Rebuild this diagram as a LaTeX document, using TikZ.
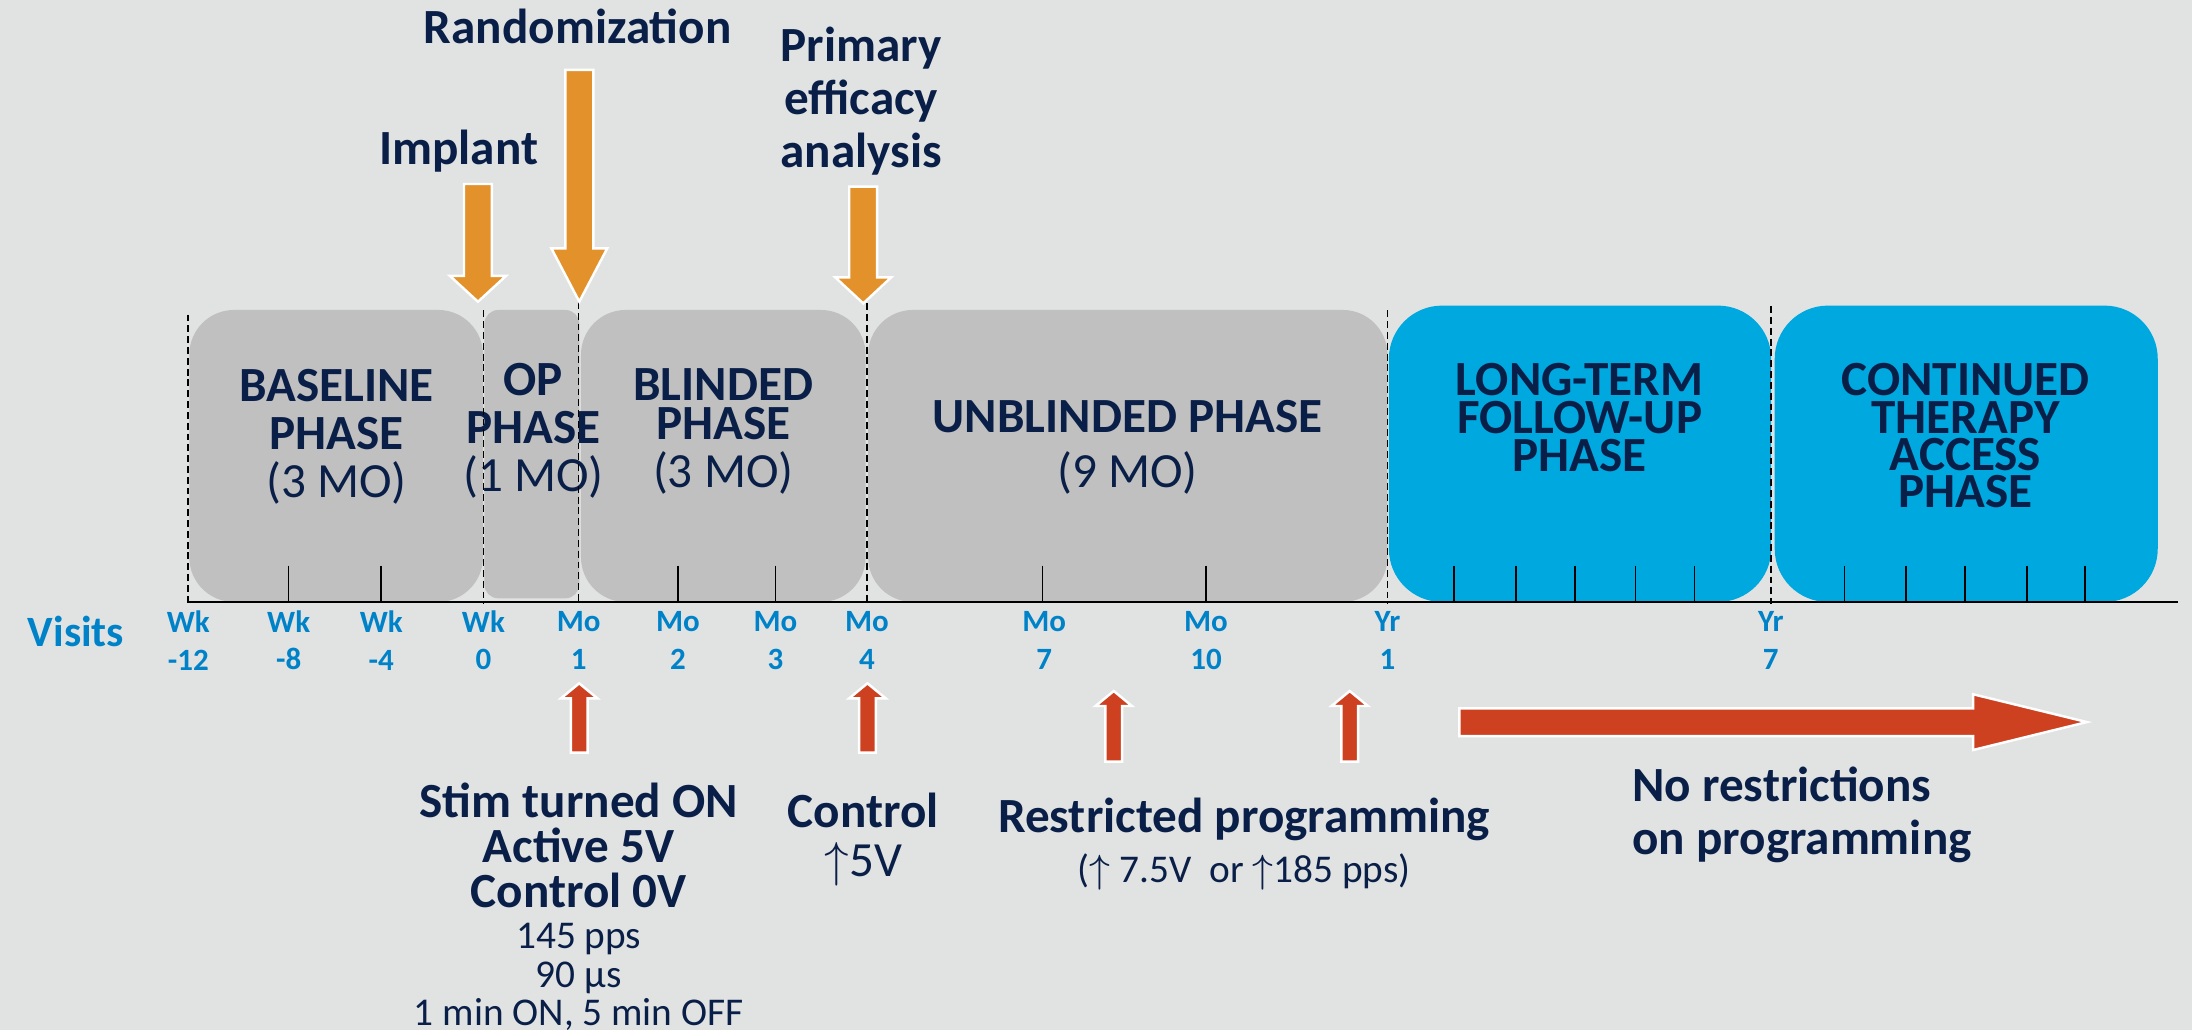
\documentclass[tikz,border=0pt]{standalone}
\usepackage{fontspec}
\setmainfont{Carlito}

\definecolor{bggray}{RGB}{225,227,227}
\definecolor{textnavy}{RGB}{10,31,72}
\definecolor{visitblue}{RGB}{0,130,200}
\definecolor{boxgray}{RGB}{192,192,192}
\definecolor{boxblue}{RGB}{0,168,224}
\definecolor{eventorange}{RGB}{227,146,43}
\definecolor{stimred}{RGB}{205,65,33}

\begin{document}
\begin{tikzpicture}[x=0.01cm, y=-0.01cm,
  phase/.style={font=\fontsize{10}{#1}\selectfont\bfseries, text=textnavy, align=center, inner sep=0pt},
  phase/.default=9.8,
  eventtext/.style={font=\fontsize{10}{#1}\selectfont\bfseries, text=textnavy, align=center, inner sep=0pt},
  eventtext/.default=10.8,
  settext/.style={font=\fontsize{8}{7.8}\selectfont, text=textnavy, align=center, inner sep=0pt},
  visit/.style={font=\fontsize{6.3}{7.7}\selectfont\bfseries, text=visitblue, align=center, inner sep=0pt},
  graybox/.style={fill=boxgray, rounded corners=0.32cm},
  bluebox/.style={fill=boxblue, rounded corners=0.38cm},
  downblock/.style={fill=eventorange, draw=white, line width=0.5pt},
  upblock/.style={fill=stimred, draw=white, line width=0.5pt},
  visitline/.style={line width=0.35pt, dash pattern=on 1.4pt off 0.8pt}]

\useasboundingbox (0,0) rectangle (1568,736.8);
\fill[bggray] (0,0) rectangle (1568,736.8);

% Drawing phase boxes
\fill[graybox] (135.4,221.7) rectangle (345.5,430.6);
\fill[graybox, rounded corners=0.1cm] (346.5,221.7) rectangle (414.4,428);
\fill[graybox] (415.6,221.7) rectangle (619.2,430.6);
\fill[graybox] (621,221.7) rectangle (992.5,430.6);
\fill[bluebox] (993.5,218.6) rectangle (1267,430.6);
\fill[bluebox] (1269.5,218.6) rectangle (1543.5,430.6);

% Phase names
\node[phase] (baseline) at (240.6,312.3) {BASELINE\\PHASE\\{\mdseries (3 MO)}};
\node[phase] (op) at (381.5,308.1) {OP\\PHASE\\{\mdseries (1 MO)}};
\node[phase=7.8] (blinded) at (517.4,308.7) {BLINDED\\PHASE\\[2pt]{\mdseries (3 MO)}};
\node[phase=11.2] (unblinded) at (806.6,320) {UNBLINDED PHASE\\{\mdseries (9 MO)}};
\node[phase=7.65] (longterm) at (1130,298.6) {LONG-TERM\\FOLLOW-UP\\PHASE};
\node[phase=7.57] (continued) at (1406,311.7) {CONTINUED\\THERAPY\\ACCESS\\PHASE};

% Time axis and visit ticks
\draw[line width=0.5pt] (134.7,430.6) -- (1558.2,430.6);
\foreach \x in {206.5,272.7,485,554.7,745.8,862.7,1040.2,1084.3,1126.5,1170,1212.2,1319.4,1363.5,1405.7,1449.8,1491.4}
  \draw[line width=0.3pt] (\x,404.6) -- (\x,430.6);
\foreach \x/\top in {134.7/225,345.8/222,413.9/216,620.2/217,992.5/222,1266.7/219}
  \draw[visitline] (\x,\top) -- (\x,432);

% Visit labels
\node[font=\fontsize{8.8}{9}\selectfont\bfseries, text=visitblue, anchor=base, inner sep=0pt] (visits) at (54.4,462.6) {Visits};
\foreach \x/\wk/\nr [count=\i] in {134.7/Wk/-12,206.5/Wk/-8,272.7/Wk/-4,345.8/Wk/0,413.9/Mo/1,485/Mo/2,554.7/Mo/3,620.2/Mo/4,747/Mo/7,862.7/Mo/10,992.5/Yr/1,1266.7/Yr/7}
  \node[visit] (visit\i) at (\x,458) {\wk\\\nr};

% Events above the axis
\node[eventtext, anchor=base] (rand) at (413.2,31.1) {Randomization};
\node[eventtext, anchor=base] (implant) at (328.1,118) {Implant};
\node[eventtext] (primary) at (616,72.1) {Primary\\efficacy\\analysis};
\foreach \x/\top/\neck/\tip in {341.9/131.6/197.4/215.8,414.4/50/177.6/215.8,617.5/133.5/198.4/217}
  \draw[downblock] (\x-10,\top) -- (\x+10,\top) -- (\x+10,\neck) -- (\x+20,\neck) -- (\x,\tip) -- (\x-20,\neck) -- (\x-10,\neck) -- cycle;

% Stimulation settings below the axis
\foreach \x/\tip/\bot in {414.3/488.8/538.4,620.5/488.8/538.4,796.7/494.3/544.8,965.5/494.3/544.8}
  \draw[upblock] (\x-6,\bot) -- (\x-6,\tip+10.7) -- (\x-13,\tip+10.7) -- (\x,\tip) -- (\x+13,\tip+10.7) -- (\x+6,\tip+10.7) -- (\x+6,\bot) -- cycle;
\draw[upblock] (1044,506.7) -- (1411.4,506.7) -- (1411.4,496.6) -- (1492.8,516.5) -- (1411.4,536.5) -- (1411.4,526.5) -- (1044,526.5) -- cycle;

\node[eventtext=9.16] (stim) at (414,604.4) {Stim turned ON\\Active 5V\\Control 0V};
\node[settext] (stimset) at (414,698.8) {145 pps\\90 µs\\1 min ON, 5 min OFF};
\node[eventtext=9.9] (control) at (617.5,600.3) {Control\\{\mdseries $\uparrow$5V}};
\node[eventtext=10.2] (restricted) at (890,603.5) {Restricted programming\\{\mdseries\fontsize{8}{10.2}\selectfont ($\uparrow$ 7.5V~ or $\uparrow$185 pps)}};
\node[eventtext=10.9, align=left, anchor=west] (norestrict) at (1167,582.9) {No restrictions\\on programming};

\end{tikzpicture}
\end{document}
